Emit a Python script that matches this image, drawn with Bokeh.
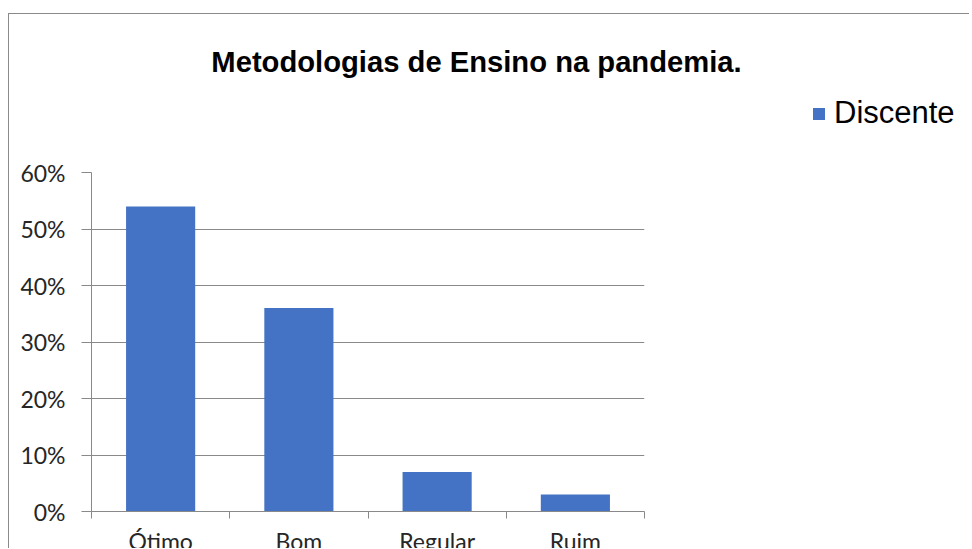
from bokeh.plotting import figure
from bokeh.layouts import column
from bokeh.models import (FactorRange, Range1d, LinearAxis, FixedTicker, NumeralTickFormatter,
                          ColumnDataSource, Legend, LegendItem, CustomJSTickFormatter, Label)
from bokeh.embed import file_html
from bokeh.resources import INLINE

# ---- data ----
title_text = "Metodologias de Ensino na pandemia."
categories = ["Ótimo", "Bom", "Regular", "Ruim"]
discente = [0.54, 0.36, 0.07, 0.03]
series_name = "Discente"
y_ticks = [0, 0.1, 0.2, 0.3, 0.4, 0.5, 0.6]

BAR = "#4472C4"
GRID = "#898989"
TXT = "#262626"

# ---------------- header: title + legend ----------------
hdr = figure(width=960, height=138, x_range=Range1d(0, 1), y_range=Range1d(0, 1),
             x_axis_type=None, y_axis_type=None, output_backend="svg",
             toolbar_location=None, tools="", min_border=0)
hdr.frame_align = False
hdr.outline_line_color = None
hdr.background_fill_color = "white"
hdr.border_fill_color = "white"
hdr.styles = {"flex-shrink": "0"}

hdr.add_layout(Label(x=467, y=90.5, x_units="screen", y_units="screen", text=title_text,
                     text_align="center", text_baseline="alphabetic",
                     text_font="Liberation Sans", text_font_style="bold",
                     text_font_size="29.2px", text_color="black"))

# legend swatch renderer: same style as the bars, a zero-height proxy (draws nothing itself)
swatch_src = ColumnDataSource(dict(x=[0], top=[0]))
swatch = hdr.vbar(x="x", top="top", width=0.5, source=swatch_src,
                  fill_color=BAR, line_color=None)
legend = Legend(items=[LegendItem(label=series_name, renderers=[swatch])],
                location=(802, 21), padding=0, margin=0, spacing=0,
                border_line_color=None, background_fill_alpha=0,
                glyph_width=15, glyph_height=15, label_standoff=8,
                label_text_font="Liberation Sans", label_text_font_size="31px",
                label_text_color="black")
hdr.add_layout(legend)

# ---------------- main chart ----------------
p = figure(width=960, height=422,
           x_range=FactorRange(*categories), y_range=Range1d(0, 0.6),
           x_axis_type=None, output_backend="svg", toolbar_location=None, tools="",
           min_border_left=82, min_border_right=325, min_border_top=20, min_border_bottom=63)
p.frame_align = False
p.outline_line_color = None
p.background_fill_color = "white"
p.border_fill_color = "white"
p.styles = {"flex-shrink": "0"}

src = ColumnDataSource(dict(cat=categories, val=discente))
p.vbar(x="cat", top="val", width=0.5, source=src, fill_color=BAR, line_color=None)

yax = p.yaxis[0]
yax.ticker = FixedTicker(ticks=y_ticks)
yax.formatter = NumeralTickFormatter(format="0%")
yax.axis_line_color = GRID
yax.major_tick_line_color = GRID
yax.major_tick_out = 10
yax.major_tick_in = 0
yax.minor_tick_line_color = None
yax.major_label_standoff = 16
yax.major_label_text_font = "Lato"
yax.major_label_text_font_size = "23px"
yax.major_label_text_color = TXT
p.ygrid.grid_line_color = GRID

# x axis: labels at category centres, tick marks on category boundaries
n = len(categories)
centres = [i + 0.5 for i in range(n)]
edges = list(range(n + 1))
xax = LinearAxis(ticker=FixedTicker(ticks=centres, minor_ticks=edges),
                 formatter=CustomJSTickFormatter(args=dict(cats=categories),
                                                 code="return cats[Math.floor(tick)]"),
                 axis_line_color=GRID, major_tick_line_color=None,
                 major_tick_out=0, major_tick_in=0,
                 minor_tick_line_color=GRID, minor_tick_out=7, minor_tick_in=0,
                 major_label_standoff=8,
                 major_label_text_font="Lato", major_label_text_font_size="23px",
                 major_label_text_color=TXT)
p.add_layout(xax, "below")

page = column(hdr, p, spacing=0,
              styles={"margin-left": "8px", "margin-top": "13px",
                      "border-top": "1px solid #8a8a8a", "border-left": "1px solid #8a8a8a",
                      "height": "535px", "overflow": "hidden"})

open("out.html", "w").write(file_html(page, INLINE))
